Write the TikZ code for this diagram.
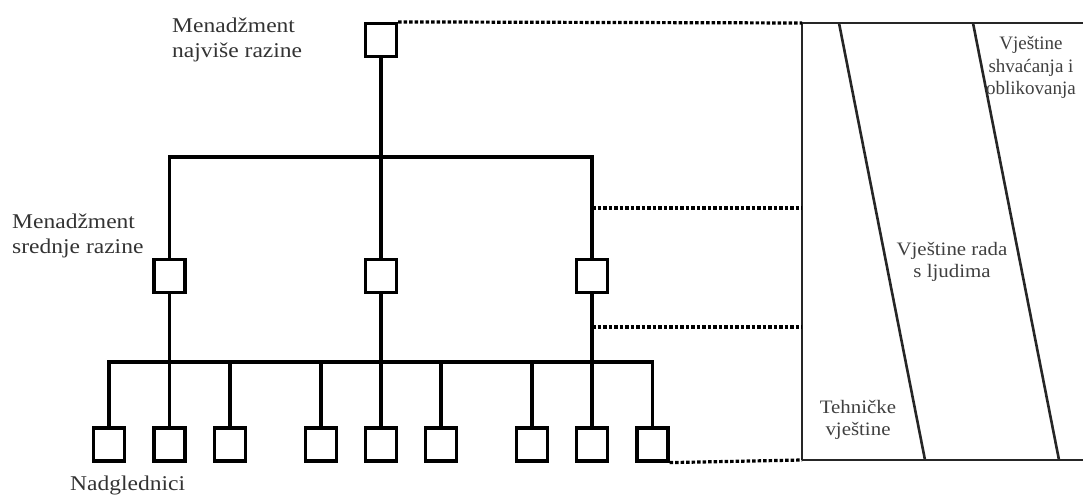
\documentclass[tikz,border=0pt]{standalone}
\usepackage{fontspec}
\setmainfont{Liberation Serif}
\usepackage{graphicx}
\newcommand{\lbl}[3]{\scalebox{#1}[1]{\begin{tabular}[t]{@{}#2@{}}#3\end{tabular}}}
\begin{document}
\begin{tikzpicture}[x=1pt,y=-1pt,
  box/.style={draw=black,line width=3.2pt,minimum width=31pt,minimum height=33pt,inner sep=0pt,fill=white},
  tree/.style={line width=3.4pt,draw=black},
  dots/.style={line width=3.2pt,draw=black,dash pattern=on 3.5pt off 2pt},
  panel/.style={line width=2.6pt,draw=black!85},
  leftlbl/.style={inner sep=0pt,anchor=base west,text=black!80,font=\fontsize{21}{25}\selectfont},
  rightlbl/.style={inner sep=0pt,anchor=base,text=black!75,font=\fontsize{19}{22}\selectfont}]
\useasboundingbox (0,0) rectangle (1083,495);
\clip (0,0) rectangle (1083,495);
% top
\node[box] (tb) at (381,40) {};
% middle
\node[box] (m1) at (169.5,276) {};
\node[box] (m2) at (381,276) {};
\node[box] (m3) at (592,276) {};
% bottom
\foreach \i/\x in {1/109,2/169.5,3/230,4/321,5/381,6/441,7/532,8/592,9/652.5}
  \node[box] (b\i) at (\x,444.5) {};
% bars
\coordinate (mbl) at (169.5,157);
\coordinate (mbr) at (592,157);
\coordinate (bbl) at (109,362);
\coordinate (bbr) at (652.5,362);
\draw[tree,line cap=rect] (mbl) -- (mbr);
\draw[tree,line cap=rect] (bbl) -- (bbr);
\draw[tree] (tb.south) -- (tb.south |- mbl);
\draw[tree] (m1.north |- mbl) -- (m1.north);
\draw[tree] (m2.north |- mbl) -- (m2.north);
\draw[tree] (m3.north |- mbl) -- (m3.north);
\draw[tree] (m1.south) -- (b2.north);
\draw[tree] (m2.south) -- (b5.north);
\draw[tree] (m3.south) -- (b8.north);
\foreach \i in {1,3,4,6,7,9}
  \draw[tree] (b\i.north |- bbl) -- (b\i.north);
% right panel
\coordinate (ptl) at (802,23);
\coordinate (pbl) at (802,460);
\coordinate (ptr) at (1090,23);
\coordinate (pbr) at (1090,460);
\coordinate (d1t) at (839,23);
\coordinate (d1b) at (925,460);
\coordinate (d2t) at (973,23);
\coordinate (d2b) at (1059,460);
\draw[panel] (ptl) -- (ptr);
\draw[panel] (pbl) -- (pbr);
\draw[panel] (ptl) -- (pbl);
\draw[panel] (d1t) -- (d1b);
\draw[panel] (d2t) -- (d2b);
% dotted links
\coordinate (q1) at (592,208);
\coordinate (q2) at (592,327);
\draw[dots] (tb.north east) -- (ptl);
\draw[dots] (q1) -- (q1 -| ptl);
\draw[dots] (q2) -- (q2 -| ptl);
\draw[dots] (b9.south east) -- (pbl);
% labels
\node[leftlbl] (l1) at (172,33) {\lbl{1.12}{l}{Menadžment\\najviše razine}};
\node[leftlbl] (l2) at (12,228) {\lbl{1.12}{l}{Menadžment\\srednje razine}};
\node[leftlbl] (l3) at (70,490) {\lbl{1.12}{l}{Nadglednici}};
\node[rightlbl] (r1) at (1031,50) {\lbl{1.0}{c}{Vještine\\shvaćanja i\\oblikovanja}};
\node[rightlbl] (r2) at (952,255) {\lbl{1.1}{c}{Vještine rada\\s ljudima}};
\node[rightlbl] (r3) at (858,413) {\lbl{1.1}{c}{Tehničke\\vještine}};
\end{tikzpicture}
\end{document}
